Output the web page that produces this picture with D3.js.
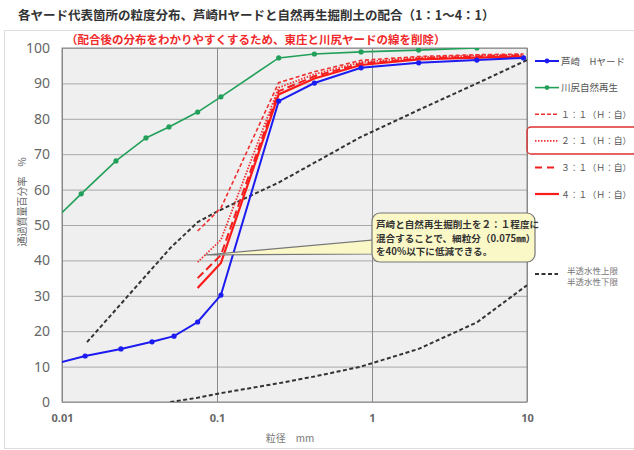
<!DOCTYPE html>
<html>
<head>
<meta charset="utf-8">
<script src="https://cdn.jsdelivr.net/npm/d3@7"></script>
<style>
  body { margin: 0; background: #fff; }
  svg { font-family: "Noto Sans CJK JP", "Noto Sans", sans-serif; }
</style>
</head>
<body>
<svg id="chart" width="634" height="450"></svg>
<script>
// 各系列のデータ(粒径 mm / 通過質量百分率 %)
var blueSizes  = [0.009, 0.0141, 0.024, 0.0381, 0.0528, 0.075, 0.106, 0.25, 0.425, 0.85, 2, 4.75, 9.5]
var blueValues = [10.8, 13.0, 15.0, 17.0, 18.6, 22.6, 30.2, 85.0, 90.1, 94.4, 95.8, 96.6, 97.2]

var greenSizes  = [0.009, 0.0133, 0.0223, 0.0348, 0.049, 0.075, 0.106, 0.25, 0.425, 0.85, 2, 4.75]
var greenValues = [51.5, 58.8, 68.1, 74.6, 77.7, 81.9, 86.2, 97.2, 98.3, 98.9, 99.4, 100]

var mixSizes = [0.075, 0.106, 0.25, 0.425, 0.85, 2, 4.75, 9.5]
var mix11 = [48.3, 54.8, 90.2, 93.3, 96.5, 97.6, 98.1, 98.3]
var mix21 = [39.5, 45.8, 88.8, 92.6, 96.0, 97.3, 97.9, 98.1]
var mix31 = [35.0, 41.5, 87.8, 92.0, 95.6, 97.0, 97.6, 97.9]
var mix41 = [32.2, 39.3, 86.9, 91.4, 95.2, 96.8, 97.3, 97.6]

var upperSizes  = [0.0145, 0.05, 0.075, 0.1, 0.25, 0.85, 2, 4.75, 10]
var upperValues = [16.9, 43.5, 50.8, 53.8, 62.0, 74.9, 82.5, 90.0, 96.6]
var lowerSizes  = [0.05, 0.075, 0.106, 0.25, 0.425, 0.85, 2, 4.75, 10]
var lowerValues = [0, 1.2, 2.5, 5.3, 7.2, 10.0, 15.0, 22.5, 33.0]

var xTicks = [0.01, 0.1, 1, 10]
var yTicks = [0, 10, 20, 30, 40, 50, 60, 70, 80, 90, 100]

var legendNames = ['芦崎　Hヤード', '川尻自然再生', '１：１（Ｈ：自）', '２：１（Ｈ：自）', '３：１（Ｈ：自）', '４：１（Ｈ：自）']

var title = '各ヤード代表箇所の粒度分布、芦崎Hヤードと自然再生掘削土の配合（1：1～4：1）'
var subTitle = '（配合後の分布をわかりやすくするため、東庄と川尻ヤードの線を削除）'
var noteLines = ['芦崎と自然再生掘削土を２：１程度に', '混合することで、細粒分（0.075㎜）', 'を40%以下に低減できる。']

var margin = {left: 62, right: 107, top: 48, bottom: 48}
var width = 634, height = 450
var plotW = width - margin.left - margin.right
var plotH = height - margin.top - margin.bottom

var svg = d3.select('#chart')

//外枠
svg.append('rect')
  .attr('x', 4.5).attr('y', 30.5)
  .attr('width', 640).attr('height', 418)
  .attr('fill', 'none').attr('stroke', '#dcdcdc')

//タイトル
svg.append('text')
  .attr('x', 18).attr('y', 20)
  .attr('font-size', 12.5).attr('font-weight', 'bold').attr('fill', '#333')
  .text(title)

var x = d3.scaleLog().domain([0.01, 10]).range([0, plotW])
var y = d3.scaleLinear().domain([0, 100]).range([plotH, 0])

var g = svg.append('g').attr('transform', 'translate(' + margin.left + ',' + margin.top + ')')

g.append('rect').attr('width', plotW).attr('height', plotH).attr('fill', '#efefef')

svg.append('defs').append('clipPath').attr('id', 'clip')
  .append('rect').attr('width', plotW).attr('height', plotH)

//横の目盛線
g.selectAll('.hgrid').data(yTicks).enter().append('line')
  .attr('class', 'hgrid')
  .attr('x1', 0).attr('x2', plotW)
  .attr('y1', function(d){ return y(d) + 0.5 })
  .attr('y2', function(d){ return y(d) + 0.5 })
  .attr('stroke', '#a8a8a8').attr('stroke-width', 1)

//縦の目盛線
g.selectAll('.vgrid').data(xTicks).enter().append('line')
  .attr('class', 'vgrid')
  .attr('x1', function(d){ return Math.round(x(d)) + 0.5 })
  .attr('x2', function(d){ return Math.round(x(d)) + 0.5 })
  .attr('y1', 0).attr('y2', plotH)
  .attr('stroke', '#8a8a8a').attr('stroke-width', 1)

g.append('rect').attr('width', plotW).attr('height', plotH)
  .attr('fill', 'none').attr('stroke', '#888')

//軸
var xAxis = g.append('g').attr('transform', 'translate(0,' + plotH + ')')
  .call(d3.axisBottom(x).tickValues(xTicks).tickFormat(d3.format('')).tickSize(0).tickPadding(12))
xAxis.select('.domain').remove()
xAxis.selectAll('text').attr('font-size', 11).attr('font-weight', 'bold').attr('fill', '#666')
  .attr('font-family', '"Noto Sans", sans-serif')

var yAxis = g.append('g')
  .call(d3.axisLeft(y).tickValues(yTicks).tickSize(0).tickPadding(12))
yAxis.select('.domain').remove()
yAxis.selectAll('text').attr('font-size', 14).attr('fill', '#666')
  .attr('font-family', '"Noto Sans", sans-serif')

svg.append('text')
  .attr('x', 290).attr('y', 442).attr('text-anchor', 'middle')
  .attr('font-size', 10).attr('fill', '#777')
  .text('粒径　mm')

svg.append('text')
  .attr('transform', 'translate(26,202) rotate(-90)')
  .attr('text-anchor', 'middle')
  .attr('font-size', 10).attr('fill', '#666')
  .text('通過質量百分率　%')

//系列
var line = d3.line()
  .x(function(d){ return x(d[0]) })
  .y(function(d){ return y(d[1]) })

var lines = g.append('g').attr('clip-path', 'url(#clip)')

function zip(xs, ys){
  return xs.map(function(v, i){ return [v, ys[i]] })
}

var series = [
  {data: zip(upperSizes, upperValues), color: '#333', width: 2, dash: '4,2.5', marker: false},
  {data: zip(lowerSizes, lowerValues), color: '#333', width: 2, dash: '4,2.5', marker: false},
  {data: zip(greenSizes, greenValues), color: '#22a05a', width: 1.6, dash: null, marker: true},
  {data: zip(mixSizes, mix11), color: '#f03030', width: 1.6, dash: '4,2.5', marker: false},
  {data: zip(mixSizes, mix21), color: '#f03030', width: 1.8, dash: '1.5,1.5', marker: false},
  {data: zip(mixSizes, mix31), color: '#f02020', width: 2, dash: '8,4', marker: false},
  {data: zip(mixSizes, mix41), color: '#ff1a1a', width: 2.2, dash: null, marker: false},
  {data: zip(blueSizes, blueValues), color: '#1c1cf0', width: 2, dash: null, marker: true}
]

series.forEach(function(s){
  lines.append('path')
    .datum(s.data)
    .attr('d', line)
    .attr('fill', 'none')
    .attr('stroke', s.color)
    .attr('stroke-width', s.width)
    .attr('stroke-dasharray', s.dash)
  if(s.marker){
    lines.selectAll(null).data(s.data).enter().append('circle')
      .attr('cx', function(d){ return x(d[0]) })
      .attr('cy', function(d){ return y(d[1]) })
      .attr('r', 2.6)
      .attr('fill', s.color)
  }
})

//サブタイトル(赤)
svg.append('text')
  .attr('x', 66).attr('y', 44)
  .attr('font-size', 11.5).attr('font-weight', 'bold').attr('fill', '#f02a2a')
  .text(subTitle)

//吹き出し
var note = svg.append('g')
note.append('path')
  .attr('d', 'M205,255 L374,240 L374,254 Z')
  .attr('fill', '#fbf8c8').attr('stroke', '#777').attr('stroke-width', 1.2)
note.append('rect')
  .attr('x', 372).attr('y', 213).attr('width', 163).attr('height', 49)
  .attr('rx', 8).attr('ry', 8)
  .attr('fill', '#fbf8c8').attr('stroke', '#777').attr('stroke-width', 1.2)
note.append('rect')
  .attr('x', 373).attr('y', 239).attr('width', 3).attr('height', 16)
  .attr('fill', '#fbf8c8')
note.selectAll('.note').data(noteLines).enter().append('text')
  .attr('x', 376)
  .attr('y', function(d, i){ return 228 + i * 13.5 })
  .attr('font-size', 9.6).attr('font-weight', 'bold').attr('fill', '#333')
  .text(function(d){ return d })

//凡例
var legend = svg.append('g')
var legendStyle = [
  {color: '#1c1cf0', dash: null, marker: true, w: 2},
  {color: '#22a05a', dash: null, marker: true, w: 1.6},
  {color: '#f03030', dash: '4,2', marker: false, w: 1.6},
  {color: '#f03030', dash: '1.5,1.5', marker: false, w: 1.8},
  {color: '#f02020', dash: '7,5', marker: false, w: 2},
  {color: '#ff1a1a', dash: null, marker: false, w: 2.2}
]
legendNames.forEach(function(name, i){
  var ly = 61 + i * 26.6
  var st = legendStyle[i]
  legend.append('line')
    .attr('x1', 535).attr('x2', 559).attr('y1', ly).attr('y2', ly)
    .attr('stroke', st.color).attr('stroke-width', st.w)
    .attr('stroke-dasharray', st.dash)
  if(st.marker){
    legend.append('circle').attr('cx', 547).attr('cy', ly).attr('r', 2.4).attr('fill', st.color)
  }
  legend.append('text')
    .attr('x', 561).attr('y', ly + 3.5)
    .attr('font-size', i >= 2 ? 8.8 : 9.5).attr('fill', '#555')
    .text(name)
})
legend.append('rect')
  .attr('x', 527).attr('y', 127).attr('width', 120).attr('height', 27)
  .attr('rx', 4).attr('fill', 'none').attr('stroke', '#e03030').attr('stroke-width', 1.3)

legend.append('line')
  .attr('x1', 535).attr('x2', 558).attr('y1', 274).attr('y2', 274)
  .attr('stroke', '#333').attr('stroke-width', 2).attr('stroke-dasharray', '4,2.5')
legend.selectAll('.lim').data(['半透水性上限', '半透水性下限']).enter().append('text')
  .attr('x', 567)
  .attr('y', function(d, i){ return 274 + i * 11 })
  .attr('font-size', 8.5).attr('fill', '#777')
  .text(function(d){ return d })
</script>
</body>
</html>
